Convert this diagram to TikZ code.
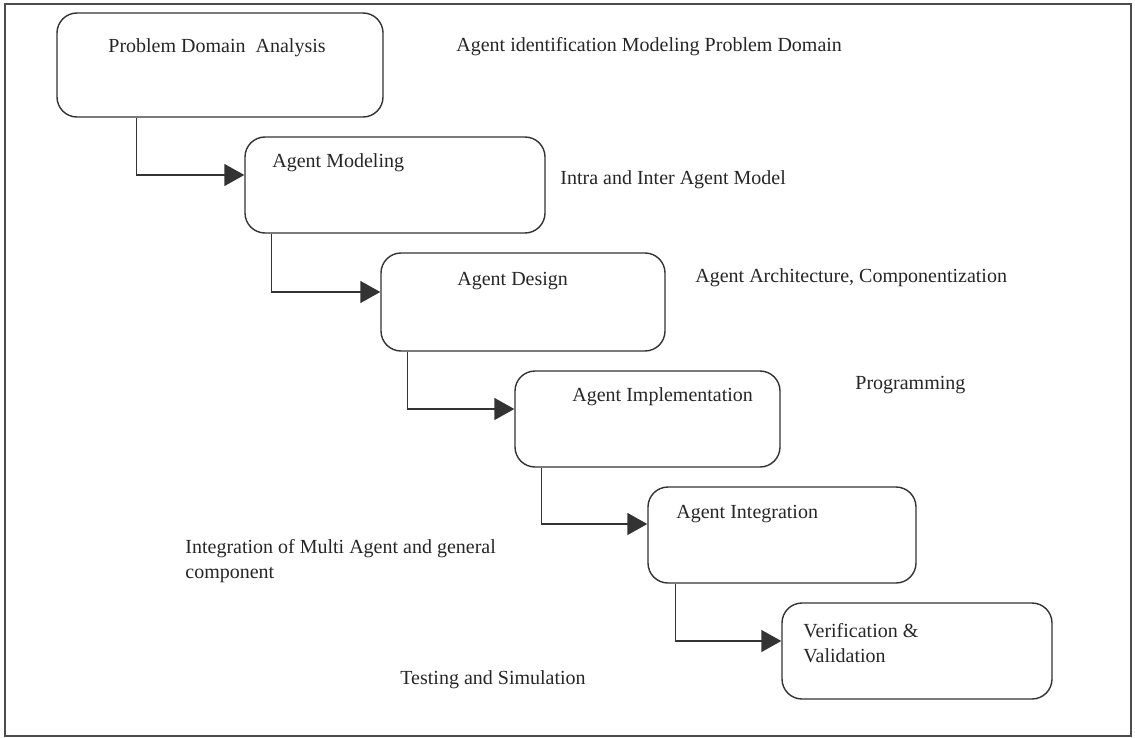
\documentclass[tikz,border=0pt]{standalone}
\usepackage{fontspec}
\setmainfont{Liberation Serif}
\usetikzlibrary{arrows.meta}

\tikzset{
  stage/.style = {draw=black!80, line width=0.7pt, rounded corners=10pt, inner sep=0pt},
  conn/.style  = {draw=black!80, line width=0.7pt, -{Triangle[length=10pt,width=11pt]}},
  txt/.style   = {inner sep=0pt, anchor=west, font=\fontsize{10}{12.5}\selectfont, text=black!85}
}

\begin{document}
\begin{tikzpicture}[x=0.5pt, y=-0.5pt]
            \useasboundingbox (0,0) rectangle (1135,738);
            \draw [black!70, line width=0.6pt] (5,4) rectangle (1131,736);   %Rahmen
            % Kaesten
            \node [stage, minimum width=163pt, minimum height=52pt] (pda) at (220,65) {};
            \node [stage, minimum width=150pt, minimum height=48pt] (mod) at (395,185) {};
            \node [stage, minimum width=142pt, minimum height=49pt] (des) at (523,302) {};
            \node [stage, minimum width=132.5pt, minimum height=48pt] (imp) at (647.5,419) {};
            \node [stage, minimum width=134pt, minimum height=48pt] (int) at (782,535) {};
            \node [stage, minimum width=135pt, minimum height=48pt] (ver) at (917,651) {};
            % Texte in den Kaesten
            \node [txt] (tpda) at (108,48) {Problem Domain\ \ Analysis};
            \node [txt] (tmod) at (272,163) {Agent Modeling};
            \node [txt] (tdes) at (457,281) {Agent Design};
            \node [txt] (timp) at (572,397) {Agent Implementation};
            \node [txt] (tint) at (676,514) {Agent Integration};
            \node [txt, align=left] (tver) at (803,643) {Verification \&\\Validation};
            % Beschreibungen
            \node [txt] (dpda) at (456,47) {Agent identification Modeling Problem Domain};
            \node [txt] (dmod) at (560,180) {Intra and Inter Agent Model};
            \node [txt] (ddes) at (695,278) {Agent Architecture, Componentization};
            \node [txt] (dimp) at (855,385) {Programming};
            \node [txt, align=left] (dint) at (185,561) {Integration of Multi Agent and general\\component};
            \node [txt] (dver) at (400,680) {Testing and Simulation};
            % Pfeile
            \draw [conn] ([xshift=40pt]pda.south west) |- ([yshift=5pt]mod.west);
            \draw [conn] ([xshift=13.5pt]mod.south west) |- ([yshift=5pt]des.west);
            \draw [conn] ([xshift=13.5pt]des.south west) |- ([yshift=5pt]imp.west);
            \draw [conn] ([xshift=13.5pt]imp.south west) |- ([yshift=5.5pt]int.west);
            \draw [conn] ([xshift=14pt]int.south west) |- ([yshift=5pt]ver.west);
        \end{tikzpicture}
\end{document}
